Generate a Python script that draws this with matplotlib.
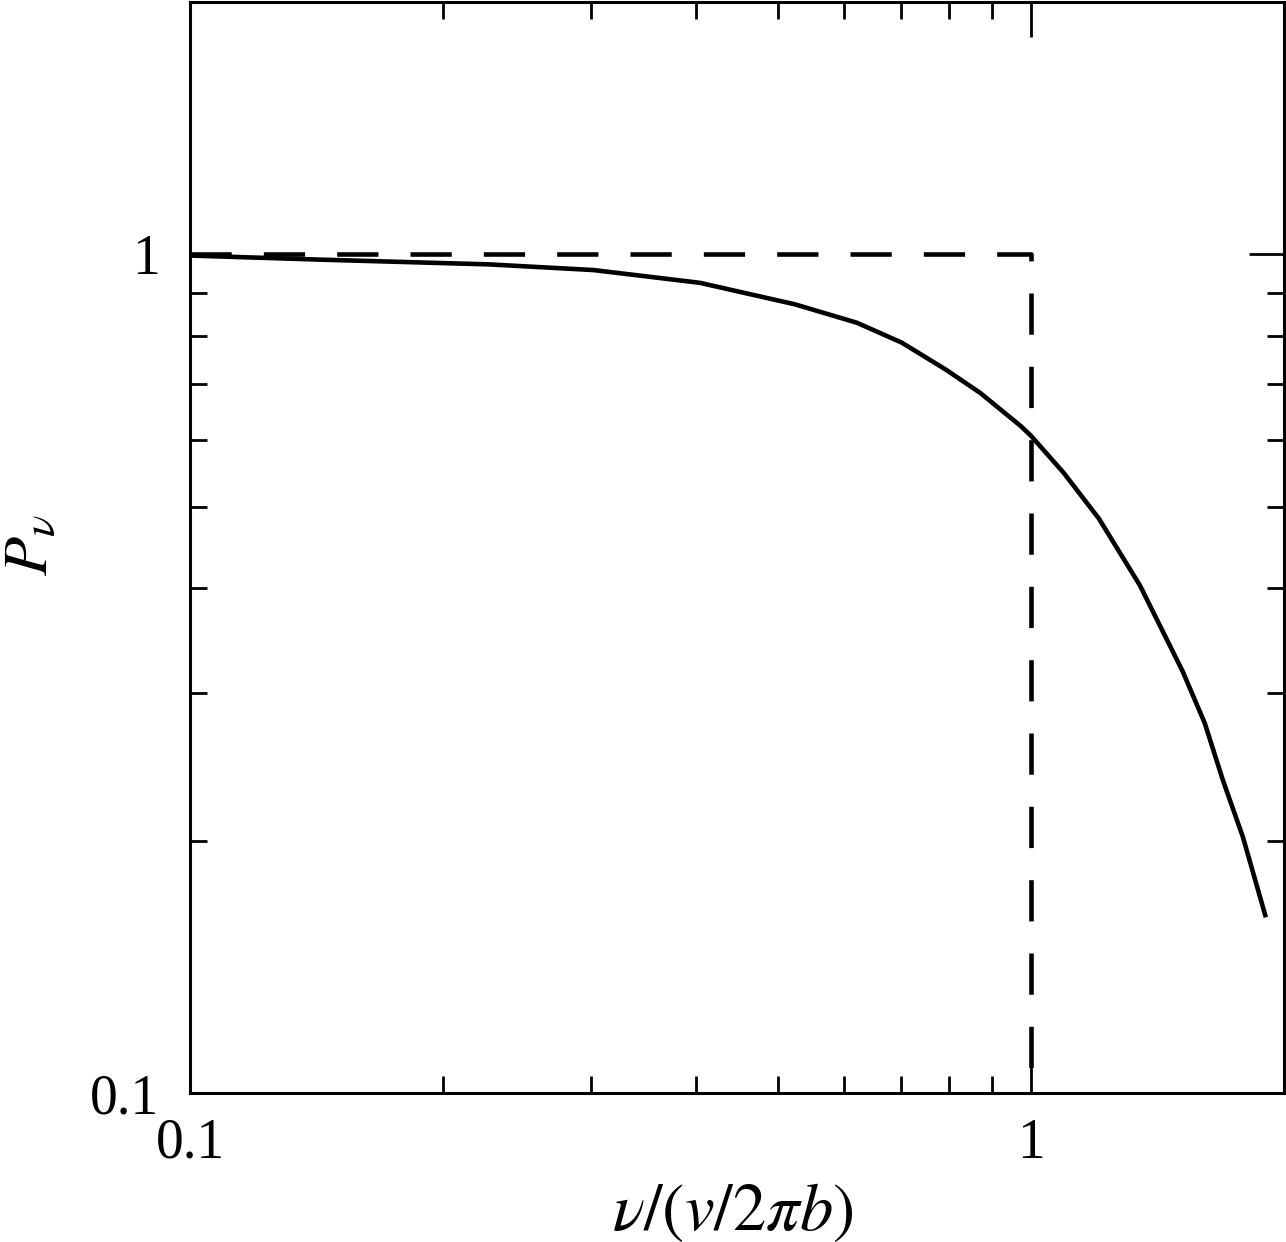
import matplotlib
matplotlib.use('Agg')
from matplotlib import pyplot as plt
from matplotlib.ticker import LogLocator, NullFormatter, FixedLocator, FixedFormatter

plt.rcParams['font.family'] = ['Liberation Serif', 'DejaVu Serif']
plt.rcParams['mathtext.fontset'] = 'stix'

# curve
freq = [0.100, 0.142, 0.227, 0.302, 0.404, 0.524, 0.621, 0.702, 0.792, 0.870,
        0.973, 1.000, 1.094, 1.205, 1.348, 1.516, 1.610, 1.692, 1.787, 1.903]
power = [0.997, 0.986, 0.973, 0.958, 0.925, 0.872, 0.829, 0.785, 0.729, 0.684,
         0.624, 0.608, 0.549, 0.484, 0.403, 0.318, 0.276, 0.236, 0.202, 0.162]

# step approximation (dashed)
step_x = [0.1, 1.0, 1.0]
step_y = [1.0, 1.0, 0.1]

x_ticks = [0.1, 1]
x_labels = ['0.1', '1']
y_ticks = [0.1, 1]
y_labels = ['0.1', '1']

fig = plt.figure(figsize=(12.86, 12.42), dpi=100)
ax = fig.add_axes([190/1286, 1 - 1093/1242, (1284-190)/1286, (1093-2)/1242])

ax.plot(freq, power, color='black', lw=3.3, solid_capstyle='butt', solid_joinstyle='round')
ax.plot(step_x, step_y, color='black', lw=3.3, dashes=(9, 7))

ax.set_xscale('log')
ax.set_yscale('log')
ax.set_xlim(0.1, 2.0)
ax.set_ylim(0.1, 2.0)

for axis, ticks, labels in ((ax.xaxis, x_ticks, x_labels), (ax.yaxis, y_ticks, y_labels)):
    axis.set_major_locator(FixedLocator(ticks))
    axis.set_major_formatter(FixedFormatter(labels))
    axis.set_minor_locator(LogLocator(base=10, subs=range(2, 10)))
    axis.set_minor_formatter(NullFormatter())

ax.tick_params(which='both', direction='in', top=True, right=True, width=2, colors='black')
ax.tick_params(which='major', length=25, labelsize=40)
ax.tick_params(which='minor', length=12.5)
ax.tick_params(axis='x', which='major', pad=18)
ax.tick_params(axis='y', which='major', pad=22)
for s in ax.spines.values():
    s.set_linewidth(2.2)

fig.text(733/1286, 1 - 1213/1242, r'$\nu/(v/2\pi b)$', fontsize=48, ha='center', va='center')
fig.text(32/1286, 1 - 545/1242, r'$P_\nu$', fontsize=46, ha='center', va='center', rotation=90)

fig.savefig('out.png', dpi=100)
